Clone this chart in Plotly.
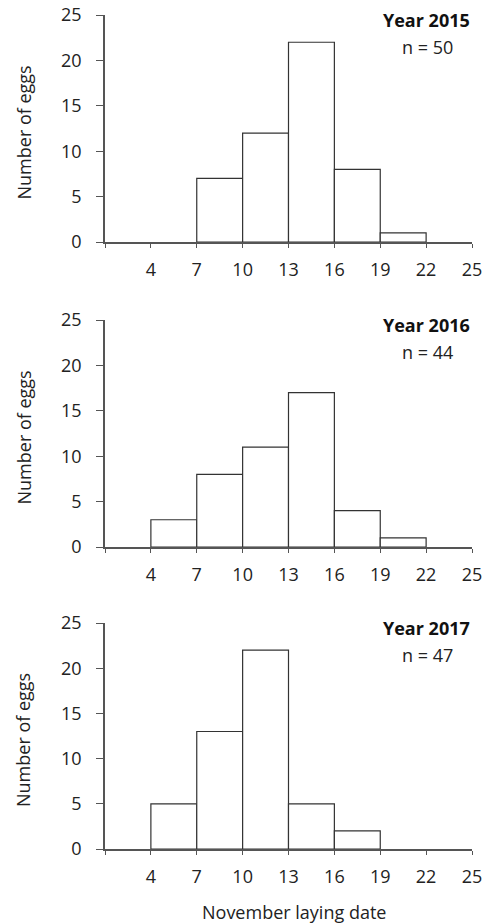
import plotly.graph_objects as go

# Data
bin_edges = [1, 4, 7, 10, 13, 16, 19, 22, 25]
years = ["2015", "2016", "2017"]
counts_2015 = [0, 0, 7, 12, 22, 8, 1, 0]
counts_2016 = [0, 3, 8, 11, 17, 4, 1, 0]
counts_2017 = [0, 5, 13, 22, 5, 2, 0, 0]
n_values = [50, 44, 47]
x_ticks = [4, 7, 10, 13, 16, 19, 22, 25]
y_ticks = [0, 5, 10, 15, 20, 25]

all_counts = [counts_2015, counts_2016, counts_2017]

W, H = 487, 924
FONT = "Open Sans"
FS = 18
TXT = "#222222"
AX = "#555555"


def px_x(p):
    return p / W


def px_y(p):
    return 1 - p / H


# panel pixel extents on the page (top, bottom)
panels_px = [(15, 242), (320, 547), (623, 849)]

fig = go.Figure()
centers = [(bin_edges[i] + bin_edges[i + 1]) / 2 for i in range(len(bin_edges) - 1)]
widths = [bin_edges[i + 1] - bin_edges[i] for i in range(len(bin_edges) - 1)]

layout = dict(
    width=W, height=H,
    margin=dict(l=0, r=0, t=0, b=0),
    paper_bgcolor="white", plot_bgcolor="white",
    showlegend=False,
    font=dict(family=FONT, size=FS, color=TXT),
)
annotations = []
for i, (yr, counts) in enumerate(zip(years, all_counts)):
    xa = "x" if i == 0 else f"x{i+1}"
    ya = "y" if i == 0 else f"y{i+1}"
    xs = [c for c, v in zip(centers, counts) if v > 0]
    ws = [w for w, v in zip(widths, counts) if v > 0]
    vs = [v for v in counts if v > 0]
    fig.add_trace(go.Bar(
        x=xs, y=vs, width=ws, xaxis=xa, yaxis=ya,
        marker=dict(color="white", line=dict(color="#333333", width=1.2)),
        hoverinfo="x+y",
    ))
    top, bot = panels_px[i]
    dom_y = [px_y(bot), px_y(top)]
    xkey = "xaxis" if i == 0 else f"xaxis{i+1}"
    ykey = "yaxis" if i == 0 else f"yaxis{i+1}"
    layout[xkey] = dict(
        domain=[px_x(105), px_x(472)], range=[bin_edges[0], bin_edges[-1]],
        anchor=ya, tickmode="array", tickvals=[bin_edges[0]] + x_ticks,
        ticktext=[""] + [str(t) for t in x_ticks],
        ticks="outside", ticklen=4, tickwidth=1.3, tickcolor=AX,
        showline=True, linecolor=AX, linewidth=1.5, showgrid=False,
        zeroline=False, tickfont=dict(size=FS, color=TXT), fixedrange=True,
        automargin=False, ticklabelstandoff=7, ticklabeloverflow="allow",
    )
    layout[ykey] = dict(
        domain=dom_y, range=[0, 25], anchor=xa,
        tickmode="array", tickvals=y_ticks,
        ticks="outside", ticklen=7, tickwidth=1.3, tickcolor=AX,
        showline=True, linecolor=AX, linewidth=1.5, showgrid=False,
        zeroline=False, tickfont=dict(size=FS, color=TXT),
        fixedrange=True, automargin=False, ticklabelstandoff=11,
        ticklabeloverflow="allow",
    )
    annotations.append(dict(
        text="Number of eggs", xref="paper", yref="paper",
        x=px_x(23), y=px_y((top + bot) / 2 + 4), xanchor="center", yanchor="middle",
        textangle=-90, showarrow=False, font=dict(size=FS, color=TXT),
    ))
    annotations.append(dict(
        text=f"<b>Year {yr}</b>", xref="paper", yref="paper",
        x=px_x(472), y=px_y(top + 5), xanchor="right", yanchor="middle",
        showarrow=False, font=dict(size=FS, color="#111111"),
    ))
    annotations.append(dict(
        text=f"n = {n_values[i]}", xref="paper", yref="paper",
        x=px_x(427), y=px_y(top + 32), xanchor="center", yanchor="middle",
        showarrow=False, font=dict(size=FS, color=TXT),
    ))

annotations.append(dict(
    text="November laying date", xref="paper", yref="paper",
    x=px_x(294), y=px_y(912), xanchor="center", yanchor="middle",
    showarrow=False, font=dict(size=FS, color=TXT),
))
layout["annotations"] = annotations
fig.update_layout(**layout)
fig.write_html(
    "out.html",
    config={"displayModeBar": False},
    post_script="document.body.style.margin='0';document.body.style.overflow='hidden';",
)
